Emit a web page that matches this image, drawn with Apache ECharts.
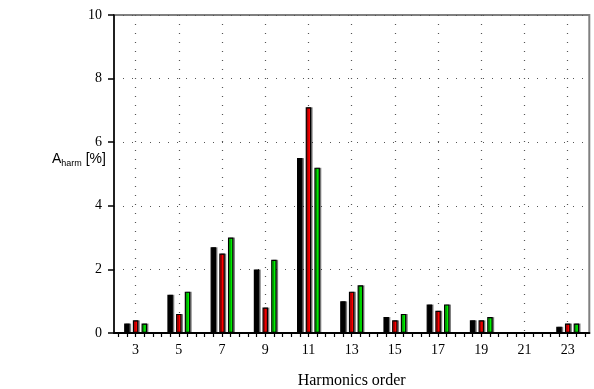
<!DOCTYPE html>
<html>
<head>
<meta charset="utf-8">
<script src="https://cdn.jsdelivr.net/npm/echarts@6/dist/echarts.min.js"></script>
<style>html,body{margin:0;padding:0;background:#fff;}#c{width:594px;height:389px;}</style>
</head>
<body>
<div id="c"></div>
<script>
var orders = [3, 5, 7, 9, 11, 13, 15, 17, 19, 21, 23];
var seriesBlack = [0.3, 1.2, 2.7, 2.0, 5.5, 1.0, 0.5, 0.9, 0.4, 0, 0.2];
var seriesRed   = [0.4, 0.6, 2.5, 0.8, 7.1, 1.3, 0.4, 0.7, 0.4, 0, 0.3];
var seriesGreen = [0.3, 1.3, 3.0, 2.3, 5.2, 1.5, 0.6, 0.9, 0.5, 0, 0.3];
var yTicks = [0, 2, 4, 6, 8, 10];

function pairs(vals) { return orders.map(function (o, i) { return [o, vals[i]]; }); }

var serif = '"Liberation Serif", "DejaVu Serif", serif';
var sans = '"Liberation Sans", Arial, sans-serif';

function barSeries(name, color, vals) {
  return {
    name: name, type: 'bar', xAxisIndex: 0, yAxisIndex: 0,
    barWidth: 5.5, barGap: '58%',
    data: pairs(vals),
    itemStyle: { color: color, borderColor: '#000', borderWidth: 1.2,
      shadowColor: 'rgba(0,0,0,0.4)', shadowOffsetX: 1.5, shadowOffsetY: 0, shadowBlur: 0 }
  };
}

var chart = echarts.init(document.getElementById('c'), null, { renderer: 'canvas' });
chart.setOption({
  animation: false,
  backgroundColor: '#fff',
  title: {
    left: 47, top: 147,
    text: '{a|A}{s|harm}{a| [%]}',
    textStyle: {
      fontWeight: 'normal',
      rich: {
        a: { fontFamily: sans, fontSize: 14, fontWeight: 'normal', color: '#000', verticalAlign: 'top', lineHeight: 15 },
        s: { fontFamily: sans, fontSize: 9, fontWeight: 'normal', color: '#000', verticalAlign: 'top', lineHeight: 10, padding: [7, 0, 0, 0] }
      }
    }
  },
  grid: [
    { left: 114, right: 4.7, top: 15, bottom: 56, containLabel: false, outerBoundsMode: 'none',
      show: true, borderColor: '#808080', borderWidth: 2, backgroundColor: 'transparent' },
    { left: 118.32, right: 9.02, top: 15, bottom: 56, containLabel: false, outerBoundsMode: 'none' }
  ],
  xAxis: [
    {
      type: 'value', gridIndex: 0, min: 2, max: 24, interval: 1,
      name: 'Harmonics order', nameLocation: 'middle', nameGap: 40,
      nameTextStyle: { fontFamily: serif, fontSize: 16, color: '#000' },
      axisLine: { show: true, lineStyle: { color: '#000', width: 2 } },
      axisTick: { show: false },
      axisLabel: { fontFamily: serif, fontSize: 14, color: '#000', margin: 10,
        formatter: function (v) { return (v % 2 === 1) ? String(v) : ''; } },
      splitLine: { show: true, lineStyle: { color: ['rgba(0,0,0,0)', '#555'], type: [1, 8], width: 1.2 } }
    },
    {
      type: 'value', gridIndex: 1, min: 0, max: 54, interval: 1,
      axisLine: { show: false },
      axisTick: { show: true, length: 4, lineStyle: { color: '#000', width: 1.2 } },
      axisLabel: { show: false },
      splitLine: { show: false }
    }
  ],
  yAxis: [
    {
      type: 'value', gridIndex: 0, min: yTicks[0], max: yTicks[yTicks.length - 1], interval: 2,
      axisLine: { show: true, lineStyle: { color: '#000', width: 1.5 } },
      axisTick: { show: true, length: 6, lineStyle: { color: '#000', width: 1.5 } },
      axisLabel: { fontFamily: serif, fontSize: 14, color: '#000', margin: 12 },
      splitLine: { show: true, lineStyle: { color: '#555', type: [1, 8], width: 1.2 } }
    },
    { type: 'value', gridIndex: 1, min: 0, max: 1, show: false }
  ],
  series: [
    barSeries('Series 1', '#000000', seriesBlack),
    barSeries('Series 2', '#ff0000', seriesRed),
    barSeries('Series 3', '#00f000', seriesGreen)
  ]
});
</script>
</body>
</html>
